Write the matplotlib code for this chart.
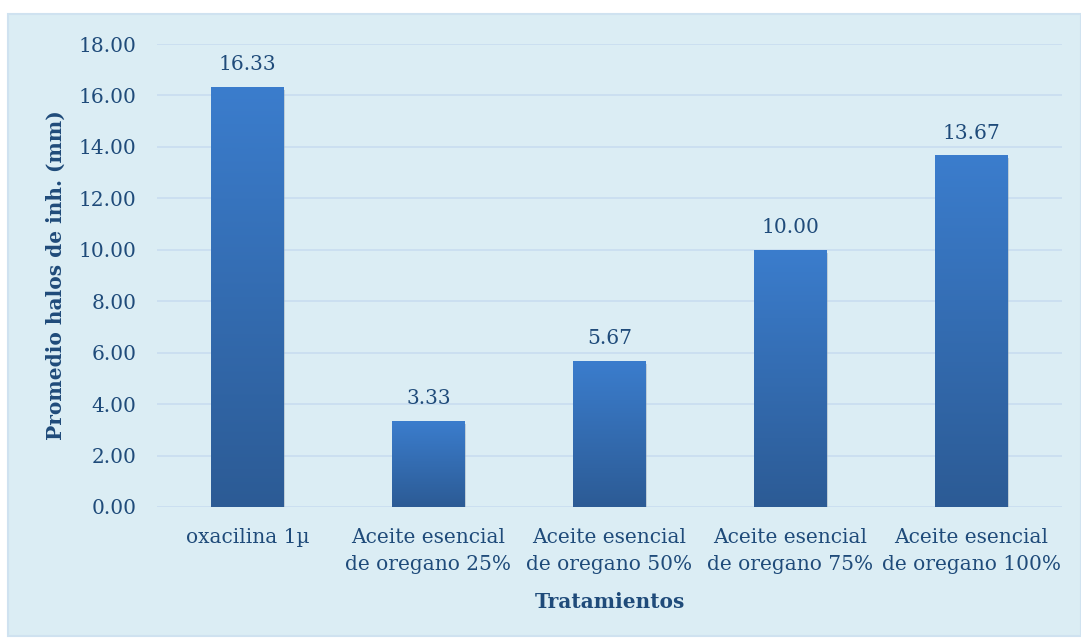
import numpy as np
import matplotlib.pyplot as plt
from matplotlib.patches import Rectangle
from matplotlib.colors import LinearSegmentedColormap

# Data
categorias = ["oxacilina 1µ",
              "Aceite esencial\nde oregano 25%",
              "Aceite esencial\nde oregano 50%",
              "Aceite esencial\nde oregano 75%",
              "Aceite esencial\nde oregano 100%"]
promedios = [16.33, 3.33, 5.67, 10.00, 13.67]
y_ticks = [0, 2, 4, 6, 8, 10, 12, 14, 16, 18]

txt_color = "#1F4B7A"
bg_color = "#DBEDF4"
grid_color = "#C8DDF0"
plt.rcParams['font.family'] = ['DejaVu Serif']

fig = plt.figure(figsize=(10.81, 6.39), dpi=100)
fig.patch.set_facecolor("white")
# panel background
fig.add_artist(Rectangle((8 / 1081, 3 / 639), 1 - 8 / 1081, 1 - 17 / 639,
                         transform=fig.transFigure, facecolor=bg_color,
                         edgecolor="#CFE2F0", linewidth=1.5, zorder=-10))

ax = fig.add_axes([0.1452, 0.2066, 0.8372, 0.7245])
ax.set_facecolor("none")

x = np.arange(len(categorias))
width = 0.40
bars = ax.bar(x, promedios, width=width, color="none", zorder=3)

cmap = LinearSegmentedColormap.from_list("grad", ["#2C5B95", "#3B7DCD"])
grad = np.linspace(0, 1, 256).reshape(-1, 1)
for b, v in zip(bars, promedios):
    x0 = b.get_x()
    # soft shadow below the bar
    ax.add_patch(Rectangle((x0 + 0.01, -0.12), width, v, facecolor="#9AA8B4",
                           alpha=0.45, linewidth=0, zorder=2))
    im = ax.imshow(grad, extent=[x0, x0 + width, 0, v], origin="lower",
                   cmap=cmap, aspect="auto", zorder=3)
    im.set_clip_path(b)
    ax.text(b.get_x() + width / 2, v + 0.5, f"{v:.2f}", ha="center",
            va="bottom", fontsize=14.5, color=txt_color)

ax.set_xlim(-0.5, len(categorias) - 0.5)
ax.set_ylim(0, 18)
ax.set_yticks(y_ticks)
ax.set_yticklabels([f"{t:.2f}" for t in y_ticks])
ax.set_xticks(x)
ax.set_xticklabels(categorias, linespacing=1.55)
ax.tick_params(axis="both", length=0, labelsize=14.5, colors=txt_color)
ax.tick_params(axis="y", pad=15)
ax.tick_params(axis="x", pad=15)
ax.grid(axis="y", color=grid_color, linewidth=1.2, zorder=0)
ax.set_axisbelow(True)
for s in ax.spines.values():
    s.set_visible(False)

ax.set_xlabel("Tratamientos", fontsize=14.5, fontweight="bold",
              color=txt_color, labelpad=13)
ax.set_ylabel("Promedio halos de inh. (mm)", fontsize=14.5, fontweight="bold",
              color=txt_color, labelpad=9)

fig.savefig("out.png", dpi=100)
